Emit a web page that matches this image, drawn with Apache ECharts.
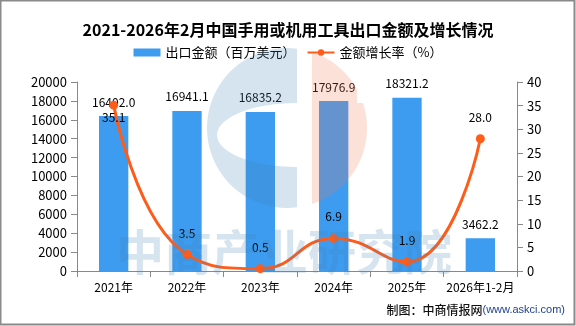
<!DOCTYPE html>
<html>
<head>
<meta charset="utf-8">
<script src="https://cdn.jsdelivr.net/npm/echarts@6/dist/echarts.min.js"></script>
<style>
html,body{margin:0;padding:0;background:#fff;}
#chart{width:576px;height:326px;}
</style>
</head>
<body>
<div id="chart"></div>
<script>
var categories = ['2021年', '2022年', '2023年', '2024年', '2025年', '2026年1-2月'];
var exportValues = [16402.0, 16941.1, 16835.2, 17976.9, 18321.2, 3462.2];
var growthRates = [35.1, 3.5, 0.5, 6.9, 1.9, 28.0];
var leftTicks = { min: 0, max: 20000, interval: 2000 };
var rightTicks = { min: 0, max: 40, interval: 5 };
var seriesNames = ['出口金额（百万美元）', '金额增长率（%）'];
var titleText = '2021-2026年2月中国手用或机用工具出口金额及增长情况';

var FONT = '"Noto Sans CJK SC", "Noto Sans", sans-serif';
var chart = echarts.init(document.getElementById('chart'), null, { renderer: 'canvas' });

var lineData = growthRates.map(function (v, i) {
  return i === 0 ? { value: v, label: { position: 'bottom', distance: 2 } } : v;
});

// watermark logo outlines (decoration only)
function circlePts(cx, cy, r, a0, a1, n) {
  var pts = [];
  for (var i = 0; i <= n; i++) {
    var a = a0 + (a1 - a0) * i / n;
    pts.push([cx + r * Math.cos(a), cy + r * Math.sin(a)]);
  }
  return pts;
}
var LCX = 287, LCY = 128, LR = 80;
var aTop = Math.atan2(-Math.sqrt(LR * LR - 100), 10);
var aBot = Math.atan2(Math.sqrt(LR * LR - 100), 10);
var bluePts = circlePts(LCX, LCY, LR, aTop, aBot - 2 * Math.PI, 60).concat(
  circlePts(297, 135, 1, Math.PI / 2, Math.PI * 1.5, 30).map(function (p) {
    return [297 + (p[0] - 297) * 80, 135 + (p[1] - 135) * 32];
  })
);
var oA0 = Math.atan2(-Math.sqrt(LR * LR - 625), 25);
var oA1 = Math.atan2(-Math.sqrt(LR * LR - 4900), 70);
var oA2 = Math.atan2(-25, Math.sqrt(LR * LR - 625));
var oA3 = Math.atan2(Math.sqrt(LR * LR - 625), 25);
var orangePts = circlePts(LCX, LCY, LR, oA0, oA1, 12)
  .concat([[357, 103]])
  .concat(circlePts(LCX, LCY, LR, oA2, oA3, 30));

var option = {
  backgroundColor: '#fff',
  animation: false,
  textStyle: { fontFamily: FONT },
  title: {
    text: titleText,
    left: 'center', top: 17,
    textStyle: { fontSize: 16, fontWeight: 'bold', color: '#000', fontFamily: FONT }
  },
  legend: {
    left: 'center', top: 41,
    itemGap: 11,
    itemWidth: 27, itemHeight: 8,
    textStyle: { fontSize: 13, color: '#000', fontFamily: FONT },
    data: [
      { name: seriesNames[0], icon: 'rect' },
      { name: seriesNames[1] }
    ]
  },
  grid: { left: 77, right: 59, top: 82, bottom: 55, containLabel: false },
  xAxis: {
    type: 'category',
    data: categories,
    axisLine: { lineStyle: { color: '#888', width: 1 } },
    axisTick: { show: true, length: 6, lineStyle: { color: '#888' } },
    axisLabel: { color: '#000', fontSize: 12, margin: 10, fontFamily: FONT, interval: 0 }
  },
  yAxis: [
    {
      type: 'value',
      min: leftTicks.min, max: leftTicks.max, interval: leftTicks.interval,
      axisLine: { show: true, lineStyle: { color: '#888' } },
      axisTick: { show: true, length: 6, lineStyle: { color: '#888' } },
      splitLine: { show: false },
      axisLabel: { color: '#000', fontSize: 13, margin: 10, fontFamily: FONT,
        formatter: function (v) { return String(v); } }
    },
    {
      type: 'value',
      min: rightTicks.min, max: rightTicks.max, interval: rightTicks.interval,
      axisLine: { show: true, lineStyle: { color: '#888' } },
      axisTick: { show: true, length: 6, lineStyle: { color: '#888' } },
      splitLine: { show: false },
      axisLabel: { color: '#000', fontSize: 13, margin: 10, fontFamily: FONT,
        formatter: function (v) { return String(v); } }
    }
  ],
  series: [
    {
      name: seriesNames[0],
      type: 'bar',
      data: exportValues,
      barWidth: '40%',
      itemStyle: { color: '#3d9cf0' },
      label: {
        show: true, position: 'top', distance: 8,
        color: '#000', fontSize: 12, fontFamily: FONT,
        formatter: function (p) { return p.value.toFixed(1); }
      },
      z: 2
    },
    {
      name: seriesNames[1],
      type: 'line',
      yAxisIndex: 1,
      data: lineData,
      smooth: 0.5,
      symbol: 'circle',
      symbolSize: 9,
      lineStyle: { color: '#ff5c1a', width: 3 },
      itemStyle: { color: '#ff5c1a' },
      label: {
        show: true, position: 'top', distance: 11,
        color: '#000', fontSize: 12, fontFamily: FONT,
        formatter: function (p) { return Number(p.value).toFixed(1); }
      },
      z: 3
    }
  ],
  graphic: [
    {
      type: 'polygon', z: 100, silent: true,
      shape: { points: bluePts },
      style: { fill: 'rgba(70,130,180,0.22)' }
    },
    {
      type: 'polygon', z: 100, silent: true,
      shape: { points: orangePts },
      style: { fill: 'rgba(240,120,80,0.22)' }
    },
    {
      type: 'text', z: 100, silent: true,
      left: 116, top: 228,
      style: {
        text: '中商产业研究院',
        font: 'bold 48px "Noto Sans CJK SC", sans-serif',
        fill: 'rgba(70,130,180,0.22)'
      }
    },
    {
      type: 'text', z: 100, silent: true,
      right: 11, top: 304,
      style: {
        text: '{a|制图：中商情报网}{b|(www.askci.com)}',
        rich: {
          a: { fontSize: 12, fontWeight: 500, fill: '#111', fontFamily: FONT },
          b: { fontSize: 11, fill: '#1f3f90', fontFamily: '"Liberation Sans", sans-serif' }
        }
      }
    },
    {
      type: 'rect', z: 101, silent: true,
      shape: { x: 0.5, y: 0.5, width: 574, height: 324 },
      style: { fill: 'none', stroke: '#8a8a8a', lineWidth: 2 }
    }
  ]
};
chart.setOption(option);
</script>
</body>
</html>
